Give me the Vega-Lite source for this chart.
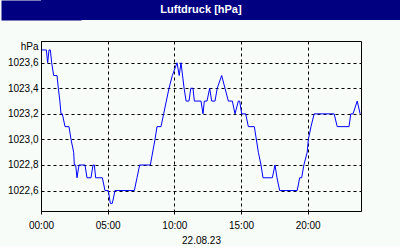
{
  "$schema": "https://vega.github.io/schema/vega-lite/v6.json",
  "background": "#f8fcf8",
  "padding": 0,
  "columns": 1,
  "align": "none",
  "spacing": 20,
  "config": {
    "view": {"stroke": null},
    "font": "Liberation Sans"
  },
  "concat": [
    {
      "width": 360,
      "height": 20,
      "view": {"fill": "#000080", "stroke": null},
      "data": {"values": [{"label": "Luftdruck [hPa]"}]},
      "mark": {"type": "text", "color": "white", "font": "Liberation Sans", "fontWeight": "bold", "fontSize": 11, "dx": -20},
      "encoding": {
        "x": {"field": "label", "type": "nominal", "axis": null},
        "y": {
          "field": "label",
          "type": "nominal",
          "axis": {
            "title": null,
            "labels": false,
            "ticks": false,
            "grid": false,
            "domain": true,
            "domainColor": "#000080",
            "domainWidth": 80
          }
        },
        "text": {"field": "label", "type": "nominal"}
      }
    },
    {
      "width": 320,
      "height": 170,
      "view": {"stroke": "black", "strokeWidth": 1},
      "data": {
        "values": [
          {"time": "2023-08-22T00:03", "hPa": 1023.7},
          {"time": "2023-08-22T00:24", "hPa": 1023.7},
          {"time": "2023-08-22T00:30", "hPa": 1023.6},
          {"time": "2023-08-22T00:36", "hPa": 1023.7},
          {"time": "2023-08-22T00:42", "hPa": 1023.7},
          {"time": "2023-08-22T00:48", "hPa": 1023.6},
          {"time": "2023-08-22T00:57", "hPa": 1023.5},
          {"time": "2023-08-22T01:12", "hPa": 1023.5},
          {"time": "2023-08-22T01:18", "hPa": 1023.4},
          {"time": "2023-08-22T01:25", "hPa": 1023.3},
          {"time": "2023-08-22T01:30", "hPa": 1023.2},
          {"time": "2023-08-22T01:36", "hPa": 1023.2},
          {"time": "2023-08-22T01:48", "hPa": 1023.1},
          {"time": "2023-08-22T02:06", "hPa": 1023.1},
          {"time": "2023-08-22T02:15", "hPa": 1023.0},
          {"time": "2023-08-22T02:27", "hPa": 1022.9},
          {"time": "2023-08-22T02:30", "hPa": 1022.8},
          {"time": "2023-08-22T02:36", "hPa": 1022.8},
          {"time": "2023-08-22T02:42", "hPa": 1022.7},
          {"time": "2023-08-22T02:51", "hPa": 1022.8},
          {"time": "2023-08-22T03:18", "hPa": 1022.8},
          {"time": "2023-08-22T03:27", "hPa": 1022.7},
          {"time": "2023-08-22T03:45", "hPa": 1022.7},
          {"time": "2023-08-22T03:54", "hPa": 1022.8},
          {"time": "2023-08-22T04:00", "hPa": 1022.8},
          {"time": "2023-08-22T04:06", "hPa": 1022.7},
          {"time": "2023-08-22T04:36", "hPa": 1022.7},
          {"time": "2023-08-22T04:48", "hPa": 1022.6},
          {"time": "2023-08-22T05:03", "hPa": 1022.6},
          {"time": "2023-08-22T05:12", "hPa": 1022.5},
          {"time": "2023-08-22T05:21", "hPa": 1022.5},
          {"time": "2023-08-22T05:33", "hPa": 1022.6},
          {"time": "2023-08-22T07:00", "hPa": 1022.6},
          {"time": "2023-08-22T07:12", "hPa": 1022.7},
          {"time": "2023-08-22T07:24", "hPa": 1022.8},
          {"time": "2023-08-22T08:12", "hPa": 1022.8},
          {"time": "2023-08-22T08:33", "hPa": 1023.0},
          {"time": "2023-08-22T08:42", "hPa": 1023.1},
          {"time": "2023-08-22T09:00", "hPa": 1023.1},
          {"time": "2023-08-22T09:12", "hPa": 1023.2},
          {"time": "2023-08-22T09:36", "hPa": 1023.4},
          {"time": "2023-08-22T09:51", "hPa": 1023.5},
          {"time": "2023-08-22T10:12", "hPa": 1023.6},
          {"time": "2023-08-22T10:22", "hPa": 1023.5},
          {"time": "2023-08-22T10:30", "hPa": 1023.6},
          {"time": "2023-08-22T10:44", "hPa": 1023.4},
          {"time": "2023-08-22T10:53", "hPa": 1023.3},
          {"time": "2023-08-22T11:06", "hPa": 1023.3},
          {"time": "2023-08-22T11:14", "hPa": 1023.4},
          {"time": "2023-08-22T11:24", "hPa": 1023.4},
          {"time": "2023-08-22T11:30", "hPa": 1023.3},
          {"time": "2023-08-22T12:00", "hPa": 1023.3},
          {"time": "2023-08-22T12:09", "hPa": 1023.2},
          {"time": "2023-08-22T12:15", "hPa": 1023.3},
          {"time": "2023-08-22T12:27", "hPa": 1023.3},
          {"time": "2023-08-22T12:39", "hPa": 1023.4},
          {"time": "2023-08-22T12:48", "hPa": 1023.3},
          {"time": "2023-08-22T13:03", "hPa": 1023.3},
          {"time": "2023-08-22T13:13", "hPa": 1023.4},
          {"time": "2023-08-22T13:33", "hPa": 1023.5},
          {"time": "2023-08-22T13:48", "hPa": 1023.4},
          {"time": "2023-08-22T14:03", "hPa": 1023.3},
          {"time": "2023-08-22T14:21", "hPa": 1023.3},
          {"time": "2023-08-22T14:33", "hPa": 1023.2},
          {"time": "2023-08-22T14:48", "hPa": 1023.3},
          {"time": "2023-08-22T14:54", "hPa": 1023.3},
          {"time": "2023-08-22T15:03", "hPa": 1023.2},
          {"time": "2023-08-22T15:21", "hPa": 1023.2},
          {"time": "2023-08-22T15:33", "hPa": 1023.1},
          {"time": "2023-08-22T16:00", "hPa": 1023.1},
          {"time": "2023-08-22T16:18", "hPa": 1022.9},
          {"time": "2023-08-22T16:30", "hPa": 1022.8},
          {"time": "2023-08-22T16:39", "hPa": 1022.7},
          {"time": "2023-08-22T17:21", "hPa": 1022.7},
          {"time": "2023-08-22T17:33", "hPa": 1022.8},
          {"time": "2023-08-22T17:42", "hPa": 1022.7},
          {"time": "2023-08-22T17:54", "hPa": 1022.6},
          {"time": "2023-08-22T19:13", "hPa": 1022.6},
          {"time": "2023-08-22T19:24", "hPa": 1022.7},
          {"time": "2023-08-22T19:33", "hPa": 1022.7},
          {"time": "2023-08-22T19:43", "hPa": 1022.8},
          {"time": "2023-08-22T19:58", "hPa": 1022.9},
          {"time": "2023-08-22T20:03", "hPa": 1023.0},
          {"time": "2023-08-22T20:15", "hPa": 1023.1},
          {"time": "2023-08-22T20:29", "hPa": 1023.2},
          {"time": "2023-08-22T21:59", "hPa": 1023.2},
          {"time": "2023-08-22T22:13", "hPa": 1023.1},
          {"time": "2023-08-22T23:06", "hPa": 1023.1},
          {"time": "2023-08-22T23:14", "hPa": 1023.2},
          {"time": "2023-08-22T23:24", "hPa": 1023.2},
          {"time": "2023-08-22T23:43", "hPa": 1023.3},
          {"time": "2023-08-22T23:56", "hPa": 1023.2}
        ]
      },
      "mark": {"type": "line", "color": "#0000ff", "strokeWidth": 1},
      "encoding": {
        "x": {
          "field": "time",
          "type": "temporal",
          "scale": {
            "domain": [
              {"year": 2023, "month": 8, "date": 22, "hours": 0},
              {"year": 2023, "month": 8, "date": 23, "hours": 0}
            ],
            "nice": false
          },
          "axis": {
            "title": "22.08.23",
            "titleFontSize": 10,
            "titleFontWeight": "normal",
            "titleColor": "black",
            "titlePadding": 5,
            "values": [
              {"year": 2023, "month": 8, "date": 22, "hours": 0},
              {"year": 2023, "month": 8, "date": 22, "hours": 5},
              {"year": 2023, "month": 8, "date": 22, "hours": 10},
              {"year": 2023, "month": 8, "date": 22, "hours": 15},
              {"year": 2023, "month": 8, "date": 22, "hours": 20}
            ],
            "format": "%H:%M",
            "labelFlush": false,
            "labelFontSize": 10,
            "labelColor": "black",
            "labelPadding": 6,
            "tickSize": 3,
            "tickColor": "black",
            "domainColor": "black",
            "grid": true,
            "gridColor": "black",
            "gridDash": [3, 3],
            "gridOpacity": 1
          }
        },
        "y": {
          "field": "hPa",
          "type": "quantitative",
          "scale": {"domain": [1022.44, 1023.77], "nice": false, "zero": false},
          "axis": {
            "title": "hPa",
            "titleAngle": 0,
            "titleAlign": "right",
            "titleBaseline": "middle",
            "titleX": -3,
            "titleY": 5,
            "titleFontSize": 10,
            "titleFontWeight": "normal",
            "titleColor": "black",
            "values": [1022.6, 1022.8, 1023.0, 1023.2, 1023.4, 1023.6],
            "labelExpr": "replace(format(datum.value, '.1f'), '.', ',')",
            "labelFontSize": 10,
            "labelColor": "black",
            "labelPadding": 3,
            "ticks": false,
            "domain": false,
            "minExtent": 40,
            "grid": true,
            "gridColor": "black",
            "gridDash": [3, 3],
            "gridOpacity": 1
          }
        }
      }
    }
  ]
}
